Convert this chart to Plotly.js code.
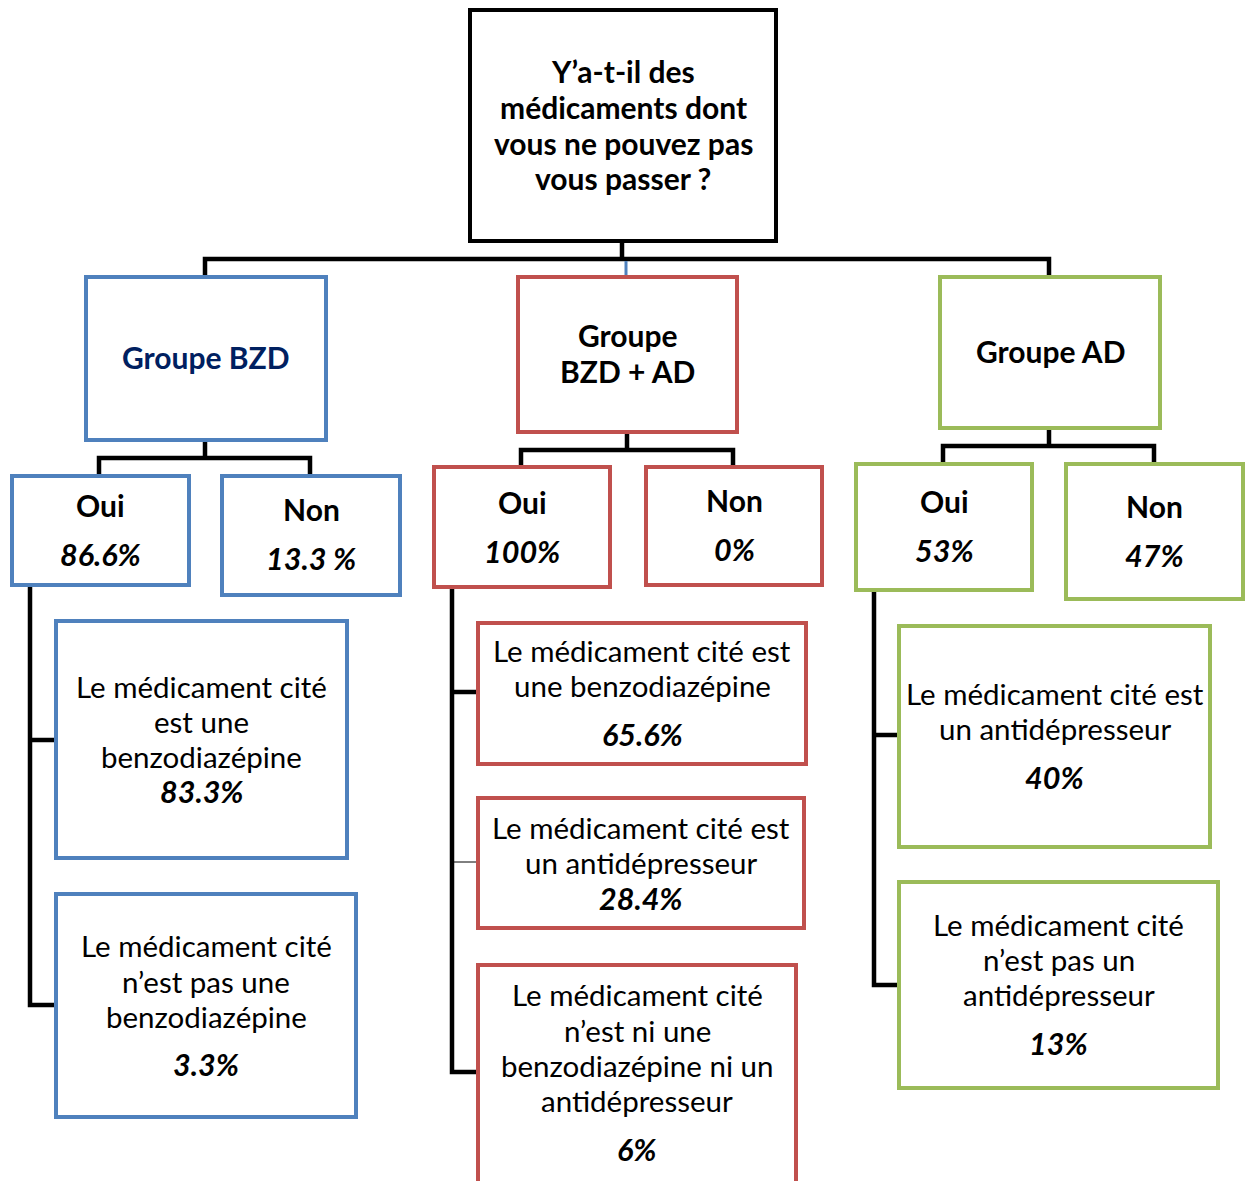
<!DOCTYPE html>
<html>
<head>
<meta charset="utf-8">
<script src="https://cdn.plot.ly/plotly-3.0.1.min.js"></script>
<style>html,body{margin:0;padding:0;background:#fff;}#chart{width:1250px;height:1181px;}</style>
</head>
<body>
<div id="chart"></div>
<script>
// ---------- DATA (texts and values) ----------
const questionLines = ["Y’a-t-il des", "médicaments dont", "vous ne pouvez pas", "vous passer ?"];
const groupNames = [["Groupe BZD"], ["Groupe", "BZD + AD"], ["Groupe AD"]];
const answerLabels = ["Oui", "Non"];
const ouiValues = ["86.6%", "100%", "53%"];
const nonValues = ["13.3 %", "0%", "47%"];
const bzdDetailTexts = [["Le médicament cité", "est une", "benzodiazépine"],
                        ["Le médicament cité", "n’est pas une", "benzodiazépine"]];
const bzdDetailValues = ["83.3%", "3.3%"];
const mixDetailTexts = [["Le médicament cité est", "une benzodiazépine"],
                        ["Le médicament cité est", "un antidépresseur"],
                        ["Le médicament cité", "n’est ni une", "benzodiazépine ni un", "antidépresseur"]];
const mixDetailValues = ["65.6%", "28.4%", "6%"];
const adDetailTexts = [["Le médicament cité est", "un antidépresseur"],
                       ["Le médicament cité", "n’est pas un", "antidépresseur"]];
const adDetailValues = ["40%", "13%"];

// ---------- GEOMETRY / STYLE (positions kept apart from data) ----------
const COLORS = {blue: "#4F81BD", red: "#C0504D", green: "#9BBB59", black: "#000000", navy: "#002060"};
const FONT = "Lato, 'Open Sans', sans-serif";
const HEAD_SIZE = 30, BODY_SIZE = 29.5, PCT_SIZE = 30.5;
const groupColors = [COLORS.blue, COLORS.red, COLORS.green];
const groupTextColors = [COLORS.navy, "#000", "#000"];

const geo = {
  question: {rect: [470, 10, 776, 241], lines: [71, 107, 143, 178]},
  groups: [
    {rect: [86, 277, 326, 440], lines: [357]},
    {rect: [518, 277, 737, 432], lines: [335, 371]},
    {rect: [940, 277, 1160, 428], lines: [351]}
  ],
  answers: [
    [{rect: [12, 476, 189, 585], lines: [505, 554]}, {rect: [222, 476, 400, 595], lines: [509, 558]}],
    [{rect: [434, 467, 610, 587], lines: [502, 551]}, {rect: [646, 467, 822, 585], lines: [500, 549]}],
    [{rect: [856, 464, 1032, 590], lines: [501, 550]}, {rect: [1066, 464, 1243, 599], lines: [506, 555]}]
  ],
  details: [
    [{rect: [56, 621, 347, 858], lines: [686, 721, 756, 791]},
     {rect: [56, 894, 356, 1117], lines: [945, 981, 1016, 1064]}],
    [{rect: [478, 623, 806, 764], lines: [650, 685, 734]},
     {rect: [478, 798, 804, 928], lines: [827, 862, 898]},
     {rect: [478, 965, 796, 1200], lines: [994, 1030, 1065, 1100, 1149]}],
    [{rect: [899, 626, 1210, 847], lines: [693, 728, 777]},
     {rect: [899, 882, 1218, 1088], lines: [924, 959, 994, 1043]}]
  ],
  connectors: [
    {d: "M622,241 L622,259", w: 4.5, c: COLORS.black},
    {d: "M205,276 L205,259 L1049,259 L1049,276", w: 4.5, c: COLORS.black},
    {d: "M626,261 L626,276", w: 3, c: COLORS.blue},
    {d: "M205,440 L205,458", w: 4.5, c: COLORS.black},
    {d: "M99,476 L99,458 L310,458 L310,476", w: 4.5, c: COLORS.black},
    {d: "M627,432 L627,450", w: 4.5, c: COLORS.black},
    {d: "M521,467 L521,450 L733,450 L733,467", w: 4.5, c: COLORS.black},
    {d: "M1049,428 L1049,446", w: 4.5, c: COLORS.black},
    {d: "M943,464 L943,446 L1154,446 L1154,464", w: 4.5, c: COLORS.black},
    {d: "M30,585 L30,1005 L56,1005", w: 4.5, c: COLORS.black},
    {d: "M30,740 L56,740", w: 4.5, c: COLORS.black},
    {d: "M452,587 L452,1072 L478,1072", w: 4.5, c: COLORS.black},
    {d: "M452,692 L478,692", w: 4.5, c: COLORS.black},
    {d: "M452,862 L478,862", w: 1, c: COLORS.black},
    {d: "M874,590 L874,985 L899,985", w: 4.5, c: COLORS.black},
    {d: "M874,735 L899,735", w: 4.5, c: COLORS.black}
  ]
};

const shapes = [];
const annotations = [];

function box(rect, color, width) {
  shapes.push({type: "rect", xref: "x", yref: "y", x0: rect[0], y0: rect[1], x1: rect[2], y1: rect[3],
    line: {color: color, width: width}, fillcolor: "rgba(255,255,255,0)", layer: "above"});
}
function textLine(x, y, txt, opts) {
  annotations.push({xref: "x", yref: "y", x: x, y: y, text: txt, showarrow: false,
    xanchor: "center", yanchor: "middle",
    font: {family: FONT, size: opts.size || BODY_SIZE, color: opts.color || "#000",
           weight: opts.bold ? "bold" : "normal", style: opts.italic ? "italic" : "normal"}});
}
function cx(rect) { return (rect[0] + rect[2]) / 2; }

// connectors
geo.connectors.forEach(c => shapes.push({type: "path", xref: "x", yref: "y", path: c.d,
  line: {color: c.c, width: c.w}, layer: "below"}));

// question
box(geo.question.rect, COLORS.black, 4);
questionLines.forEach((t, i) => textLine(cx(geo.question.rect), geo.question.lines[i], t, {bold: true, size: HEAD_SIZE}));

// groups
groupNames.forEach((lines, g) => {
  const G = geo.groups[g];
  box(G.rect, groupColors[g], 4);
  lines.forEach((t, i) => textLine(cx(G.rect), G.lines[i], t, {bold: true, size: HEAD_SIZE, color: groupTextColors[g]}));
  // answers
  const vals = [ouiValues[g], nonValues[g]];
  answerLabels.forEach((lab, a) => {
    const A = geo.answers[g][a];
    box(A.rect, groupColors[g], 4);
    textLine(cx(A.rect), A.lines[0], lab, {bold: true, size: HEAD_SIZE});
    textLine(cx(A.rect), A.lines[1], vals[a], {bold: true, italic: true, size: PCT_SIZE});
  });
});

// details
const detailTexts = [bzdDetailTexts, mixDetailTexts, adDetailTexts];
const detailValues = [bzdDetailValues, mixDetailValues, adDetailValues];
detailTexts.forEach((group, g) => {
  group.forEach((lines, k) => {
    const D = geo.details[g][k];
    box(D.rect, groupColors[g], 4);
    lines.forEach((t, i) => textLine(cx(D.rect), D.lines[i], t, {}));
    textLine(cx(D.rect), D.lines[lines.length], detailValues[g][k], {bold: true, italic: true, size: PCT_SIZE});
  });
});

const layout = {
  width: 1250, height: 1181,
  margin: {l: 0, r: 0, t: 0, b: 0},
  paper_bgcolor: "#fff", plot_bgcolor: "#fff",
  xaxis: {range: [0, 1250], visible: false, fixedrange: true},
  yaxis: {range: [1181, 0], visible: false, fixedrange: true},
  showlegend: false,
  shapes: shapes,
  annotations: annotations
};
Plotly.newPlot("chart", [], layout, {displayModeBar: false, staticPlot: true});
</script>
</body>
</html>
